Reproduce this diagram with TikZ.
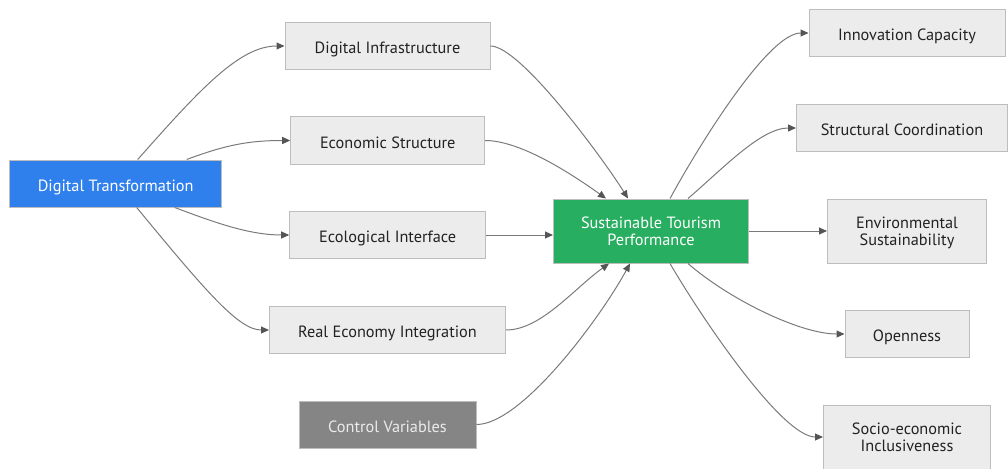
\documentclass[tikz,border=0pt]{standalone}
\usepackage{fontspec}
\setmainfont{PT Sans}
\usetikzlibrary{arrows.meta,calc}
\definecolor{boxfill}{HTML}{ECECEC}
\definecolor{boxline}{HTML}{BDBDBD}
\definecolor{blueFill}{HTML}{2F80ED}
\definecolor{greenFill}{HTML}{27AE60}
\definecolor{ctrlFill}{HTML}{858585}
\definecolor{wire}{HTML}{7A7A7A}
\definecolor{tip}{HTML}{555555}
\definecolor{ink}{HTML}{222222}
\begin{document}
\begin{tikzpicture}[x=1pt,y=-1pt,
  box/.style={draw=boxline,line width=1pt,fill=boxfill,text=ink,inner sep=0pt,
    align=center,font=\fontsize{16.3}{17.4}\selectfont,text depth=0pt},
  one/.style={text height=15pt},
  srcbox/.style={box,fill=blueFill,text=white},
  hubbox/.style={box,fill=greenFill,text=white},
  ctrlbox/.style={box,fill=ctrlFill,text=white!92!black},
  link/.style={draw=wire,line width=1pt,
    -{Triangle[length=8pt,width=7pt,color=tip,fill=tip]}}]
\useasboundingbox (0,0) rectangle (1008,468);

% sources and channels
\node[srcbox,one,minimum width=212pt,minimum height=47pt] (dt) at (115.7,183.5) {Digital Transformation};
\node[box,one,minimum width=205pt,minimum height=47pt] (di) at (387.5,46) {Digital Infrastructure};
\node[box,one,minimum width=194pt,minimum height=47pt] (es) at (387.7,140.5) {Economic Structure};
\node[box,one,minimum width=196pt,minimum height=47pt] (ei) at (387.7,235) {Ecological Interface};
\node[box,one,minimum width=236pt,minimum height=47pt] (rei) at (387.5,330) {Real Economy Integration};
\node[ctrlbox,one,minimum width=177pt,minimum height=47pt] (cv) at (387.5,424.5) {Control Variables};

% outcome
\node[hubbox,minimum width=195pt,minimum height=64pt] (stp) at (651,231) {Sustainable Tourism\\Performance};

% dimensions
\node[box,one,minimum width=196pt,minimum height=47pt] (ic) at (907,33) {Innovation Capacity};
\node[box,one,minimum width=211pt,minimum height=47pt] (sc) at (902,128) {Structural Coordination};
\node[box,minimum width=159pt,minimum height=64pt] (env) at (907,231) {Environmental\\Sustainability};
\node[box,one,minimum width=124pt,minimum height=47pt] (op) at (907,334) {Openness};
\node[box,minimum width=167pt,minimum height=64pt] (soc) at (907,437) {Socio-economic\\Inclusiveness};

% transformation -> channels
\draw[link] ([xshift=22pt]dt.north) .. controls +(62,-70) and +(-45,0) .. (di.west);
\draw[link] ([xshift=71pt]dt.north) .. controls +(40,-15) and +(-40,0) .. (es.west);
\draw[link] ([xshift=59pt]dt.south) .. controls +(40,15) and +(-40,0) .. (ei.west);
\draw[link] ([xshift=21pt]dt.south) .. controls +(70,85) and +(-30,0) .. (rei.west);

% channels -> performance
\draw[link] (di.east) .. controls +(30,0) and +(-25,-40) .. ([xshift=-23pt]stp.north);
\draw[link] (es.east) .. controls +(35,0) and +(-35,-25) .. ([xshift=-45pt]stp.north);
\draw[link] (ei.east) -- (ei.east -| stp.west);
\draw[link] (rei.east) .. controls +(35,0) and +(-35,25) .. ([xshift=-42pt]stp.south);
\draw[link] (cv.east) .. controls +(45,0) and +(-30,55) .. ([xshift=-21pt]stp.south);

% performance -> dimensions
\draw[link] ([xshift=19pt]stp.north) .. controls +(30,-55) and +(-40,0) .. (ic.west);
\draw[link] ([xshift=37pt]stp.north) .. controls +(35,-30) and +(-35,0) .. (sc.west);
\draw[link] (stp.east) -- (env.west);
\draw[link] ([xshift=37pt]stp.south) .. controls +(40,35) and +(-45,0) .. (op.west);
\draw[link] ([xshift=19pt]stp.south) .. controls +(35,60) and +(-40,0) .. (soc.west);
\end{tikzpicture}
\end{document}
